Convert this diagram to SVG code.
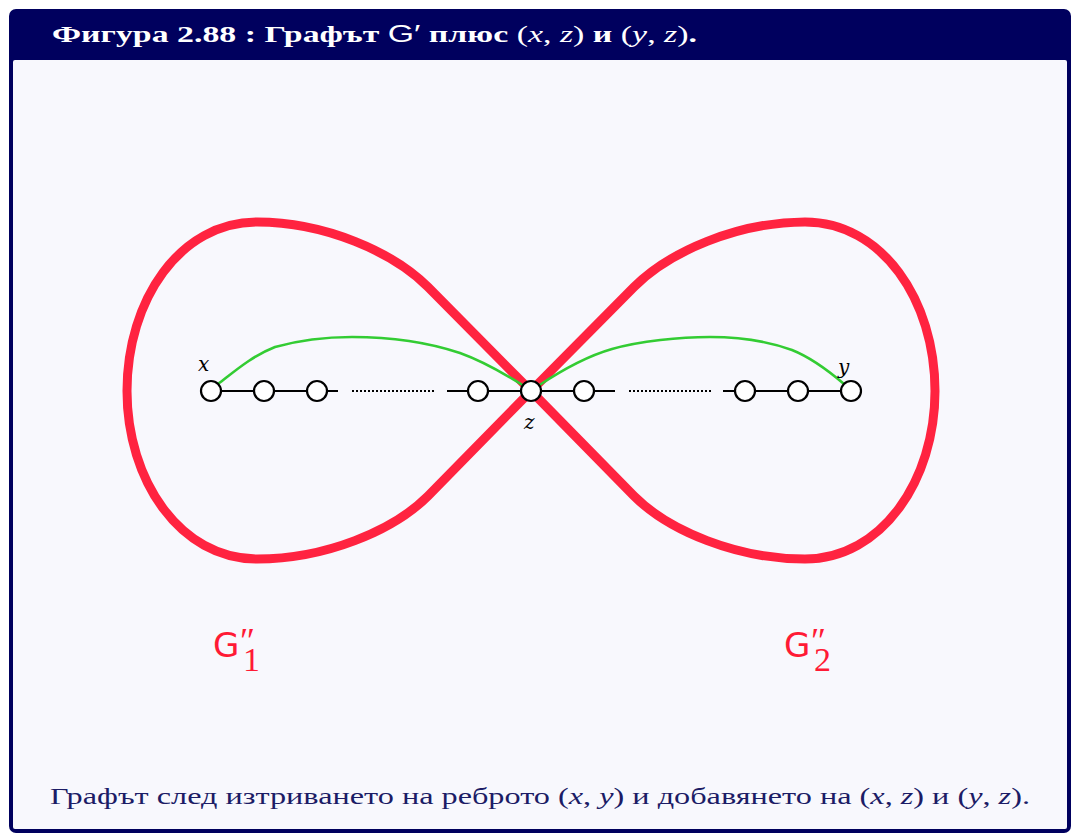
<svg xmlns="http://www.w3.org/2000/svg" width="1074" height="836" viewBox="0 0 1074 836">
<defs>
<style>
.frame{fill:#00005e}
.body{fill:#f8f8fd}
.loop{fill:none;stroke:#ff2340;stroke-width:9;stroke-linejoin:round;stroke-linecap:round}
.green{fill:none;stroke:#33cc33;stroke-width:2.6}
.edge{stroke:#000;stroke-width:2.2}
.dots{stroke:#000;stroke-width:2.2;stroke-dasharray:2 2}
.node{fill:#fff;stroke:#000;stroke-width:2.2}
.lbl{font-family:"DejaVu Serif","Liberation Serif",serif;font-style:italic;font-size:20px;fill:#000}
.title{font-family:"Liberation Serif",serif;font-weight:bold;font-size:23px;fill:#fff}
.cap{font-family:"Liberation Serif",serif;font-size:23px;fill:#1c1c66}
.gname{font-family:"DejaVu Sans","Liberation Sans",sans-serif;font-size:34px;fill:#ff1a35}
.gprime{font-family:"Liberation Serif",serif;font-size:36px}
.gsub{font-family:"Liberation Serif",serif;font-size:34px}
</style>
</defs>
<rect class="frame" x="9" y="9" width="1062" height="824" rx="7"/>
<rect class="body" x="13" y="60" width="1054" height="769" rx="2"/>
<text class="title" x="52" y="42" textLength="645" lengthAdjust="spacingAndGlyphs">Фигура 2.88 : Графът <tspan font-family="Liberation Sans, sans-serif" font-weight="normal">G′</tspan> плюс <tspan font-weight="normal">(<tspan font-style="italic">x</tspan>, <tspan font-style="italic">z</tspan>)</tspan> и <tspan font-weight="normal">(<tspan font-style="italic">y</tspan>, <tspan font-style="italic">z</tspan>)</tspan>.</text>

<g id="loops">
<path id="G1loop" class="loop" d="M531,391 L428,287 C393,252 325,222 257,222 C180,222 127,300 127,391 C127,480 180,559 257,559 C325,559 393,531 428,496 Z"/>
<path id="G2loop" class="loop" d="M531,391 L634,287 C669,252 737,222 805,222 C882,222 935,300 935,391 C935,480 882,559 805,559 C737,559 669,531 634,496 Z"/>
</g>

<g id="connectors">
<line class="edge" x1="211" y1="391" x2="338" y2="391"/>
<line class="dots" x1="352" y1="391" x2="436" y2="391"/>
<line class="edge" x1="447" y1="391" x2="615" y2="391"/>
<line class="dots" x1="629" y1="391" x2="713" y2="391"/>
<line class="edge" x1="723" y1="391" x2="851" y2="391"/>
<path class="green" d="M218,384 C235,371 252,356 275,347 C300,340 325,337 352,337 C390,337 430,343 460,353 C485,362 505,374 524,386"/>
<path class="green" d="M538,386 C556,374 584,357 612,349 C640,341 680,337 710,337 C740,337 770,342 792,350 C812,358 830,372 844,384"/>
</g>

<g id="n-x"><circle class="node" cx="211" cy="391" r="10"/><text class="lbl" x="198" y="371">x</text></g>
<g id="n-2"><circle class="node" cx="264" cy="391" r="10"/></g>
<g id="n-3"><circle class="node" cx="317" cy="391" r="10"/></g>
<g id="n-4"><circle class="node" cx="478" cy="391" r="10"/></g>
<g id="n-z"><circle class="node" cx="531" cy="391" r="10"/><text class="lbl" x="524" y="429">z</text></g>
<g id="n-6"><circle class="node" cx="584" cy="391" r="10"/></g>
<g id="n-7"><circle class="node" cx="745" cy="391" r="10"/></g>
<g id="n-8"><circle class="node" cx="798" cy="391" r="10"/></g>
<g id="n-y"><circle class="node" cx="851" cy="391" r="10"/><text class="lbl" x="838" y="374">y</text></g>

<g id="label-G1"><text class="gname" x="213" y="657">G<tspan class="gprime" x="240" y="653">″</tspan><tspan class="gsub" x="243" y="671">1</tspan></text></g>
<g id="label-G2"><text class="gname" x="784" y="657">G<tspan class="gprime" x="811" y="653">″</tspan><tspan class="gsub" x="814" y="671">2</tspan></text></g>

<text class="cap" x="50" y="804" textLength="980" lengthAdjust="spacingAndGlyphs">Графът след изтриването на реброто (<tspan font-style="italic">x</tspan>, <tspan font-style="italic">y</tspan>) и добавянето на (<tspan font-style="italic">x</tspan>, <tspan font-style="italic">z</tspan>) и (<tspan font-style="italic">y</tspan>, <tspan font-style="italic">z</tspan>).</text>
</svg>
